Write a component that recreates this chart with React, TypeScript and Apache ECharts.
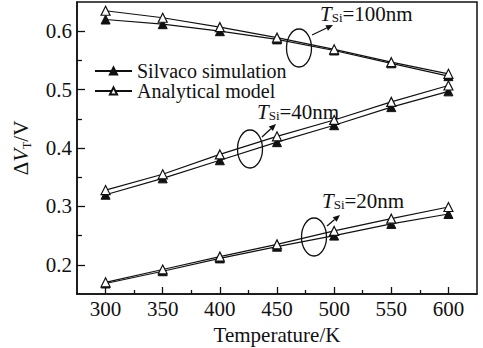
import React, { useEffect, useRef } from 'react';
import * as echarts from 'echarts';

const temperatures = [300, 350, 400, 450, 500, 550, 600];
const silvaco100 = [0.620, 0.612, 0.600, 0.586, 0.567, 0.545, 0.523];
const analytic100 = [0.635, 0.623, 0.607, 0.589, 0.569, 0.547, 0.527];
const silvaco40 = [0.320, 0.348, 0.379, 0.410, 0.439, 0.470, 0.497];
const analytic40 = [0.328, 0.355, 0.389, 0.420, 0.448, 0.479, 0.507];
const silvaco20 = [0.168, 0.189, 0.211, 0.231, 0.250, 0.270, 0.287];
const analytic20 = [0.170, 0.192, 0.214, 0.235, 0.258, 0.279, 0.299];

const xMajorTicks = [300, 350, 400, 450, 500, 550, 600];
const xMinorTicks = [325, 375, 425, 475, 525, 575];
const yMajorTicks = [0.2, 0.3, 0.4, 0.5, 0.6];
const yMinorTicks = [0.25, 0.35, 0.45, 0.55];

const legendNames = ['Silvaco simulation', 'Analytical model'];
const annotationLabels = ['100nm', '40nm', '20nm'];

const FONT = 'Liberation Serif, Times New Roman, serif';
const INK = '#111';

function arrow(x1: number, y1: number, x2: number, y2: number) {
  const ang = Math.atan2(y2 - y1, x2 - x1);
  const L = 7;
  const W = 3;
  const bx = x2 - L * Math.cos(ang);
  const by = y2 - L * Math.sin(ang);
  const px = -Math.sin(ang) * W;
  const py = Math.cos(ang) * W;
  return [
    { type: 'line', shape: { x1, y1, x2: bx, y2: by }, style: { stroke: INK, lineWidth: 1.3 } },
    {
      type: 'polygon',
      shape: { points: [[x2, y2], [bx + px, by + py], [bx - px, by - py]] },
      style: { fill: INK },
    },
  ];
}

function label(text: string, x: number, y: number) {
  return {
    type: 'text',
    x,
    y,
    style: {
      text: `{i|T}{s|Si}{n|=${text}}`,
      verticalAlign: 'middle',
      align: 'left',
      rich: {
        i: { fontFamily: FONT, fontStyle: 'italic', fontSize: 21, lineHeight: 20, fill: INK },
        s: { fontFamily: FONT, fontSize: 13, lineHeight: 11, verticalAlign: 'bottom', fill: INK },
        n: { fontFamily: FONT, fontSize: 21, lineHeight: 20, fill: INK },
      },
    },
  };
}

function ellipse(cx: number, cy: number) {
  return {
    type: 'ellipse',
    shape: { cx, cy, rx: 12.5, ry: 19 },
    style: { fill: 'none', stroke: INK, lineWidth: 1.3 },
  };
}

function lineSeries(name: string, values: number[], filled: boolean) {
  return {
    name,
    type: 'line',
    data: temperatures.map((t, i) => [t, values[i]]),
    symbol: 'triangle',
    symbolSize: 9,
    lineStyle: { color: INK, width: 1.2 },
    itemStyle: filled
      ? { color: INK, borderColor: INK, borderWidth: 1 }
      : { color: '#fff', borderColor: INK, borderWidth: 1.2 },
    z: filled ? 2 : 3,
  };
}

const tickRich = { t: { fontFamily: FONT, fontSize: 21, color: INK, lineHeight: 22 } };

export default function App() {
  const ref = useRef<HTMLDivElement>(null);
  useEffect(() => {
    if (!ref.current) return;
    const chart = echarts.init(ref.current, null, { renderer: 'svg' });
    const axisText = { fontFamily: FONT, fontSize: 21, color: INK };
    chart.setOption({
      animation: false,
      backgroundColor: '#fff',
      textStyle: { fontFamily: FONT, color: INK },
      grid: {
        left: 77,
        right: 6,
        top: 2,
        bottom: 54,
        containLabel: false,
        outerBoundsMode: 'none',
        show: true,
        borderColor: INK,
        borderWidth: 1.5,
      },
      legend: {
        data: legendNames,
        orient: 'vertical',
        left: 94,
        top: 61,
        itemWidth: 37,
        itemHeight: 9,
        itemGap: 0,
        textStyle: { fontFamily: FONT, fontSize: 20, color: INK, lineHeight: 20 },
        padding: 0,
      },
      xAxis: [
        {
          type: 'value',
          min: 275,
          max: 625,
          interval: 25,
          name: 'Temperature/K',
          nameLocation: 'middle',
          nameGap: 24,
          nameTextStyle: axisText,
          axisLine: { lineStyle: { color: INK, width: 1.5 } },
          axisTick: { inside: true, length: 7, customValues: xMajorTicks, lineStyle: { color: INK, width: 1.3 } },
          axisLabel: {
            fontFamily: FONT,
            fontSize: 21,
            color: INK,
            margin: 4,
            rich: tickRich,
            formatter: (v: number) =>
              xMajorTicks.includes(Math.round(v)) ? `{t|${Math.round(v)}}` : '',
          },
          splitLine: { show: false },
        },
        {
          type: 'value',
          min: 275,
          max: 625,
          position: 'bottom',
          axisLine: { show: false },
          axisTick: { inside: true, length: 4, customValues: xMinorTicks, lineStyle: { color: INK, width: 1.3 } },
          axisLabel: { show: false },
          splitLine: { show: false },
        },
      ],
      yAxis: [
        {
          type: 'value',
          min: 0.15,
          max: 0.65,
          interval: 0.05,
          name: '{n|Δ}{i|V}{s|T}{n|/V}',
          nameLocation: 'middle',
          nameGap: 44,
          nameTextStyle: {
            rich: {
              n: { fontFamily: FONT, fontSize: 21, lineHeight: 24, color: INK },
              i: { fontFamily: FONT, fontSize: 21, fontStyle: 'italic', lineHeight: 24, color: INK },
              s: { fontFamily: FONT, fontSize: 12, lineHeight: 12, verticalAlign: 'bottom', color: INK },
            },
          },
          axisLine: { show: true, lineStyle: { color: INK, width: 1.5 } },
          axisTick: { show: true, inside: true, length: 8, customValues: yMajorTicks, lineStyle: { color: INK, width: 1.3 } },
          axisLabel: {
            fontFamily: FONT,
            fontSize: 21,
            color: INK,
            margin: 5,
            rich: tickRich,
            formatter: (v: number) => {
              const r = Math.round(v * 100);
              return r % 10 === 0 && r >= 20 && r <= 60 ? `{t|${(r / 100).toFixed(1)}}` : '';
            },
          },
          splitLine: { show: false },
        },
        {
          type: 'value',
          min: 0.15,
          max: 0.65,
          position: 'left',
          axisLine: { show: false },
          axisTick: { show: true, inside: true, length: 5, customValues: yMinorTicks, lineStyle: { color: INK, width: 1.3 } },
          axisLabel: { show: false },
          splitLine: { show: false },
        },
      ],
      series: [
        lineSeries(legendNames[0], silvaco100, true),
        lineSeries(legendNames[1], analytic100, false),
        lineSeries(legendNames[0], silvaco40, true),
        lineSeries(legendNames[1], analytic40, false),
        lineSeries(legendNames[0], silvaco20, true),
        lineSeries(legendNames[1], analytic20, false),
      ],
      graphic: [
        ellipse(299, 48),
        ...arrow(312, 35, 333, 25),
        label(annotationLabels[0], 320, 14),
        ellipse(250, 149),
        ...arrow(262, 137, 276, 124),
        label(annotationLabels[1], 257, 112),
        ellipse(314, 237),
        ...arrow(327, 226, 340, 215),
        label(annotationLabels[2], 322, 201),
      ],
    });
    return () => chart.dispose();
  }, []);
  return <div ref={ref} style={{ width: 483, height: 348, position: 'absolute', left: 0, top: 0 }} />;
}
